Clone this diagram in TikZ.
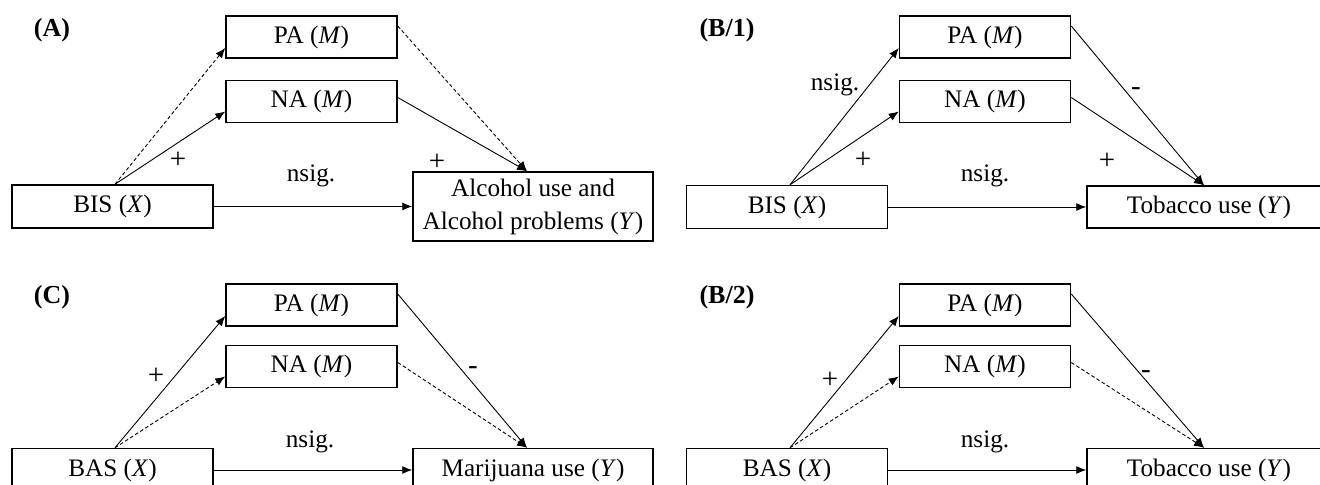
\documentclass[tikz,border=0pt]{standalone}
\usepackage{fontspec}
\setmainfont{Liberation Serif}
\usetikzlibrary{arrows.meta}
\begin{document}
\begin{tikzpicture}[x=0.5pt,y=-0.5pt,
  box/.style={draw,line width=0.75pt,inner sep=0pt,font=\fontsize{12.6}{16.5}\selectfont,align=center},
  mbox/.style={box,minimum width=85.5pt,minimum height=21pt},
  xbox/.style={box,minimum width=100.5pt,minimum height=21.5pt},
  arr/.style={line width=0.45pt,-{Latex[length=5pt,width=4pt]}},
  dsh/.style={arr,dash pattern=on 1.8pt off 1.2pt},
  lbl/.style={font=\fontsize{12.6}{14}\selectfont,inner sep=0pt},
  sgn/.style={font=\fontsize{14.5}{16}\selectfont,inner sep=0pt},
  ttl/.style={font=\fontsize{13}{14}\selectfont\bfseries,inner sep=0pt}]
\clip (0,0) rectangle (1320,485);
% ---------- Panel A ----------
\node[ttl] (tA) at (52,30) {(A)};
\node[mbox] (paA) at (311.5,37) {PA (\textit{M})};
\node[mbox] (naA) at (311.5,101.5) {NA (\textit{M})};
\node[xbox] (xA) at (112.5,206.5) {BIS (\textit{X})};
\node[box,minimum width=120pt,minimum height=34.5pt] (yA) at (533,206.5) {Alcohol use and\\Alcohol problems (\textit{Y})};
\draw[dsh] ([xshift=1.25pt]xA.north) -- ([yshift=-5.5pt]paA.west);
\draw[arr] ([xshift=1.25pt]xA.north) -- ([yshift=-5pt]naA.west);
\draw[dsh] ([yshift=5.5pt]paA.east) -- ([xshift=-3pt]yA.north);
\draw[arr] ([yshift=2pt]naA.east) -- ([xshift=-3pt]yA.north);
\draw[arr] (xA.east) -- (yA.west);
\node[sgn] (pA1) at (178,160) {+};
\node[sgn] (pA2) at (437,162) {+};
\node[lbl] (nA) at (311,176) {nsig.};
% ---------- Panel B/1 ----------
\node[ttl] (tB1) at (727,30) {(B/1)};
\node[mbox] (paB1) at (985,37) {PA (\textit{M})};
\node[mbox] (naB1) at (985,101.5) {NA (\textit{M})};
\node[xbox] (xB1) at (787,207) {BIS (\textit{X})};
\node[box,minimum width=122pt,minimum height=21pt] (yB1) at (1209,207) {Tobacco use (\textit{Y})};
\draw[arr] ([xshift=1.5pt]xB1.north) -- ([yshift=-5.5pt]paB1.west);
\draw[arr] ([xshift=1.5pt]xB1.north) -- ([yshift=-5pt]naB1.west);
\draw[arr] ([yshift=5.5pt]paB1.east) -- ([xshift=-2.5pt]yB1.north);
\draw[arr] ([yshift=2pt]naB1.east) -- ([xshift=-2.5pt]yB1.north);
\draw[arr] (xB1.east) -- (yB1.west);
\node[lbl] (sB1) at (835,85) {nsig.};
\node[sgn] (pB1a) at (863,160) {+};
\node[sgn] (mB1) at (1136,92) {-};
\node[sgn] (pB1b) at (1107,161) {+};
\node[lbl] (nB1) at (985,176) {nsig.};
% ---------- Panel C ----------
\node[ttl] (tC) at (52,297) {(C)};
\node[mbox] (paC) at (311.5,305) {PA (\textit{M})};
\node[mbox] (naC) at (311.5,366.5) {NA (\textit{M})};
\node[xbox] (xC) at (112.5,470) {BAS (\textit{X})};
\node[box,minimum width=120pt,minimum height=21.5pt] (yC) at (533,470) {Marijuana use (\textit{Y})};
\draw[arr] ([xshift=1.25pt]xC.north) -- ([yshift=-5.5pt]paC.west);
\draw[dsh] ([xshift=1.25pt]xC.north) -- ([yshift=-5pt]naC.west);
\draw[arr] ([yshift=5.5pt]paC.east) -- ([xshift=-3pt]yC.north);
\draw[dsh] ([yshift=2pt]naC.east) -- ([xshift=-3pt]yC.north);
\draw[arr] (xC.east) -- (yC.west);
\node[sgn] (pC) at (156,376) {+};
\node[sgn] (mC) at (473,371) {-};
\node[lbl] (nC) at (310,442) {nsig.};
% ---------- Panel B/2 ----------
\node[ttl] (tB2) at (727,297) {(B/2)};
\node[mbox] (paB2) at (985,305) {PA (\textit{M})};
\node[mbox] (naB2) at (985,366.5) {NA (\textit{M})};
\node[xbox] (xB2) at (787,470) {BAS (\textit{X})};
\node[box,minimum width=122pt,minimum height=21.5pt] (yB2) at (1209,470) {Tobacco use (\textit{Y})};
\draw[arr] ([xshift=1.5pt]xB2.north) -- ([yshift=-5.5pt]paB2.west);
\draw[dsh] ([xshift=1.5pt]xB2.north) -- ([yshift=-5pt]naB2.west);
\draw[arr] ([yshift=5.5pt]paB2.east) -- ([xshift=-2.5pt]yB2.north);
\draw[dsh] ([yshift=2pt]naB2.east) -- ([xshift=-2.5pt]yB2.north);
\draw[arr] (xB2.east) -- (yB2.west);
\node[sgn] (pB2) at (830,380) {+};
\node[sgn] (mB2) at (1146,375) {-};
\node[lbl] (nB2) at (985,442) {nsig.};
\end{tikzpicture}
\end{document}
